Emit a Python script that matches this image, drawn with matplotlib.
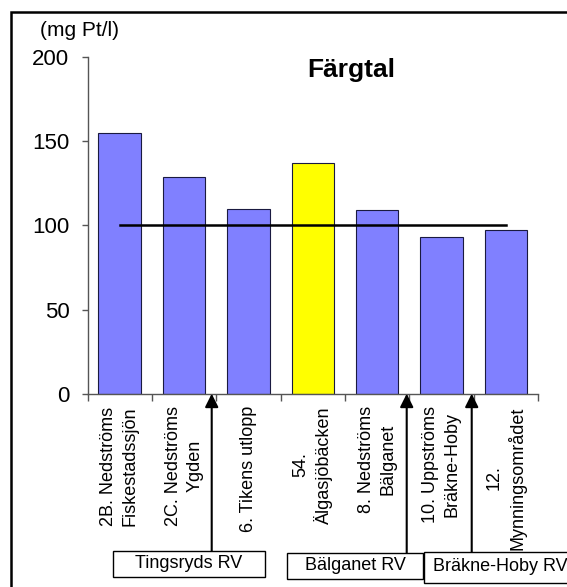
import numpy as np
import matplotlib
matplotlib.use('Agg')
import matplotlib.pyplot as plt
from matplotlib.patches import Rectangle

plt.rcParams['font.family'] = ['Liberation Sans', 'DejaVu Sans']

# Provplatser och färgtal (mg Pt/l)
stationer = ['2B. Nedströms\nFiskestadssjön', '2C. Nedströms\nYgden', '6. Tikens utlopp',
             '54.\nÄlgasjöbäcken', '8. Nedströms\nBälganet', '10. Uppströms\nBräkne-Hoby',
             '12.\nMynningsområdet']
fargtal = [155, 129, 110, 137, 109, 93, 97]
farger = ['#8080FF', '#8080FF', '#8080FF', '#FFFF00', '#8080FF', '#8080FF', '#8080FF']
jamforvarde = 100

# Reningsverk och var de släpper ut (mellan stationerna)
reningsverk = ['Tingsryds RV', 'Bälganet RV', 'Bräkne-Hoby RV']
utslapp_x = [1.43, 4.46, 5.47]

W, H = 567, 587
fig = plt.figure(figsize=(W / 100, H / 100), dpi=100)
ax = fig.add_axes([87.5 / W, 1 - 393.7 / H, 450.5 / W, (393.7 - 57) / H])

x = np.arange(len(stationer))
ax.bar(x, fargtal, width=0.66, color=farger, edgecolor='#1a1a40', linewidth=0.8, zorder=2)
ax.plot([x[0], x[-1]], [jamforvarde, jamforvarde], color='black', lw=1.8, zorder=3)

ax.set_xlim(-0.5, len(stationer) - 0.5)
ax.set_ylim(0, 200)
ax.set_yticks([0, 50, 100, 150, 200])
ax.tick_params(axis='y', direction='out', length=4, width=1, color='#555555',
               labelsize=16, pad=9)
ax.set_xticks(x)
ax.set_xticklabels(stationer, rotation=90, fontsize=13, va='top', ha='center',
                   multialignment='center', linespacing=1.35)
ax.tick_params(axis='x', length=0, pad=9)
ax.set_xticks(np.arange(-0.5, len(stationer)), minor=True)
ax.tick_params(axis='x', which='minor', direction='out', length=5, width=1, color='#555555')

for s in ['top', 'right']:
    ax.spines[s].set_visible(False)
for s in ['left', 'bottom']:
    ax.spines[s].set_color('#555555')
    ax.spines[s].set_linewidth(1)

fig.text(40 / W, 1 - 30 / H, '(mg Pt/l)', fontsize=15, ha='left', va='center')
fig.text(351 / W, 1 - 77 / H, 'Färgtal', fontsize=19, fontweight='bold',
         ha='center', va='baseline')

# Rutor med reningsverkens namn
rutor = [(113, 551, 152, 26), (287, 553, 136, 26), (424, 552, 200, 31)]
for namn, ux, (bx, by, bw, bh) in zip(reningsverk, utslapp_x, rutor):
    ax.annotate('', xy=(ux, 0), xycoords='data',
                xytext=(ux, 1 - by / H), textcoords=('data', 'figure fraction'),
                arrowprops=dict(arrowstyle='-|>', color='black', lw=1.5,
                                mutation_scale=20, shrinkA=0, shrinkB=0),
                annotation_clip=False)
    fig.add_artist(Rectangle((bx / W, 1 - (by + bh) / H), bw / W, bh / H,
                             transform=fig.transFigure, facecolor='white',
                             edgecolor='black', lw=1))
    if namn == 'Bräkne-Hoby RV':
        fig.text((bx + 9) / W, 1 - (by + bh / 2 - 1) / H, namn, fontsize=13,
                 ha='left', va='center')
    else:
        fig.text((bx + bw / 2) / W, 1 - (by + bh / 2) / H, namn, fontsize=13,
                 ha='center', va='center')

# Yttre ram
fig.add_artist(Rectangle((11 / W, -0.05), 1.1, 1.05 - 12 / H, transform=fig.transFigure,
                         fill=False, edgecolor='black', lw=1.8))

fig.savefig('out.png', dpi=100)
